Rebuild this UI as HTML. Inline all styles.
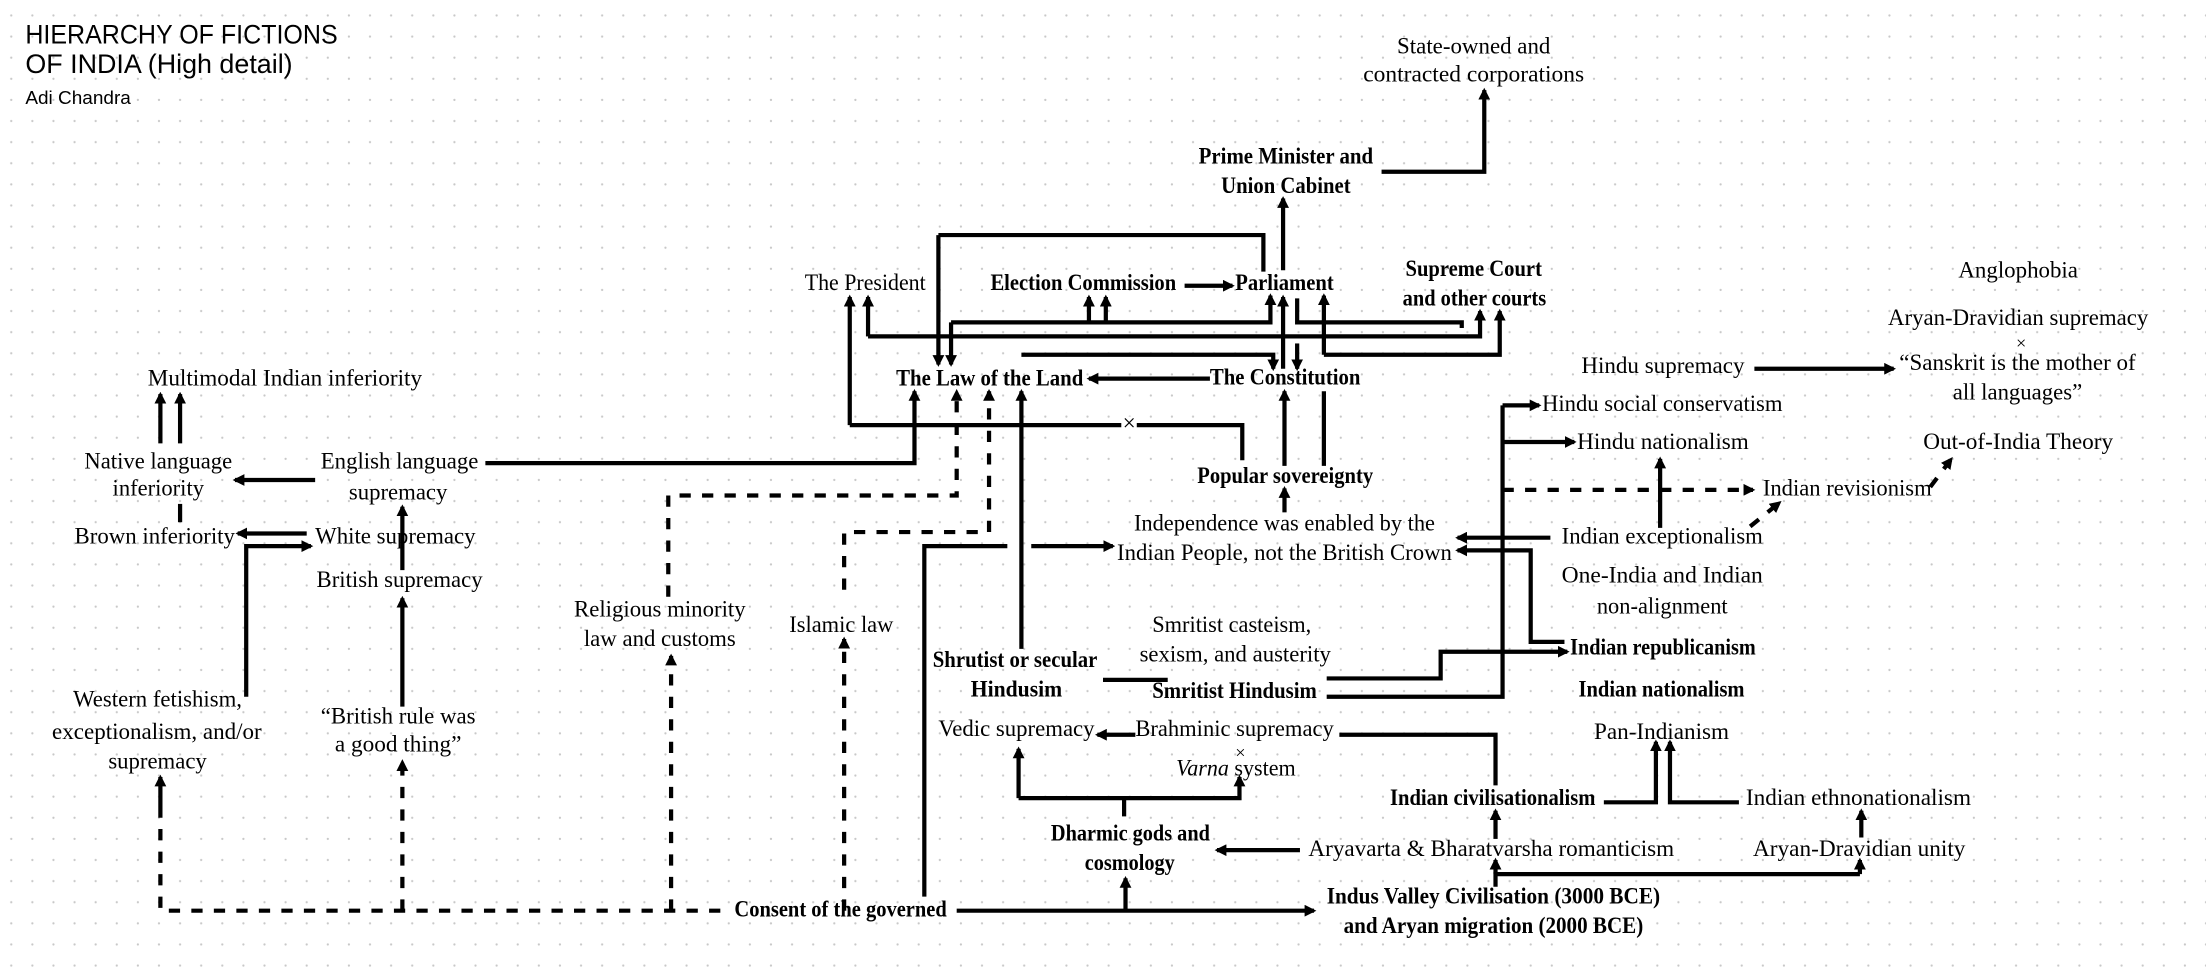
<!DOCTYPE html>
<html><head><meta charset="utf-8"><style>
html,body{margin:0;padding:0;background:#fff;}
svg{display:block;}
.t{font-family:"Liberation Serif",serif;font-size:16.5px;fill:#000;}
.b{font-weight:bold;}
.s{font-family:"Liberation Sans",sans-serif;fill:#000;}
.l{fill:none;stroke:#000;stroke-width:3;marker-end:url(#a);}
.n{fill:none;stroke:#000;stroke-width:3;}
.d{fill:none;stroke:#000;stroke-width:3;stroke-dasharray:8 8;}
.da{fill:none;stroke:#000;stroke-width:3;stroke-dasharray:8 8;marker-end:url(#a);}
</style></head><body>
<svg width="2206" height="967" viewBox="0 0 1568 687" preserveAspectRatio="none" xmlns="http://www.w3.org/2000/svg">
<defs>
<pattern id="g" x="7" y="10" width="15" height="15" patternUnits="userSpaceOnUse"><circle cx="1" cy="1" r="0.8" fill="#c8c8c8"/></pattern>
<marker id="a" viewBox="0 0 10 10" refX="8" refY="5" markerWidth="2.8" markerHeight="2.8" orient="auto" markerUnits="strokeWidth"><path d="M0,0 L10,5 L0,10 z" fill="#000"/></marker>
</defs>
<rect width="1568" height="687" fill="#fff"/>
<rect width="1568" height="687" fill="url(#g)"/>

<text class="s" x="18" y="31" font-size="19" textLength="222" lengthAdjust="spacingAndGlyphs">HIERARCHY OF FICTIONS</text>
<text class="s" x="18" y="52" font-size="19" textLength="190" lengthAdjust="spacingAndGlyphs">OF INDIA (High detail)</text>
<text class="s" x="18" y="74" font-size="13" textLength="75" lengthAdjust="spacingAndGlyphs">Adi Chandra</text>

<g class="t">
<text x="993" y="38" textLength="109" lengthAdjust="spacingAndGlyphs">State-owned and</text>
<text x="969" y="58" textLength="157" lengthAdjust="spacingAndGlyphs">contracted corporations</text>
<text class="b" x="852" y="116" textLength="124" lengthAdjust="spacingAndGlyphs">Prime Minister and</text>
<text class="b" x="868" y="137" textLength="92" lengthAdjust="spacingAndGlyphs">Union Cabinet</text>
<text x="572" y="206" textLength="86" lengthAdjust="spacingAndGlyphs">The President</text>
<text class="b" x="704" y="206" textLength="132" lengthAdjust="spacingAndGlyphs">Election Commission</text>
<text class="b" x="878" y="206" textLength="70" lengthAdjust="spacingAndGlyphs">Parliament</text>
<text class="b" x="999" y="196" textLength="97" lengthAdjust="spacingAndGlyphs">Supreme Court</text>
<text class="b" x="997" y="217" textLength="102" lengthAdjust="spacingAndGlyphs">and other courts</text>
<text class="b" x="637" y="274" textLength="133" lengthAdjust="spacingAndGlyphs">The Law of the Land</text>
<text class="b" x="860" y="273" textLength="107" lengthAdjust="spacingAndGlyphs">The Constitution</text>
<text x="1392" y="197" textLength="85" lengthAdjust="spacingAndGlyphs">Anglophobia</text>
<text x="1342" y="231" textLength="185" lengthAdjust="spacingAndGlyphs">Aryan-Dravidian supremacy</text>
<text x="1433" y="248" font-size="13">×</text>
<text x="1350" y="263" textLength="168" lengthAdjust="spacingAndGlyphs">“Sanskrit is the mother of</text>
<text x="1388" y="284" textLength="92" lengthAdjust="spacingAndGlyphs">all languages”</text>
<text x="1124" y="265" textLength="116" lengthAdjust="spacingAndGlyphs">Hindu supremacy</text>
<text x="105" y="274" textLength="195" lengthAdjust="spacingAndGlyphs">Multimodal Indian inferiority</text>
<text x="1096" y="292" textLength="171" lengthAdjust="spacingAndGlyphs">Hindu social conservatism</text>
<text x="1121" y="319" textLength="122" lengthAdjust="spacingAndGlyphs">Hindu nationalism</text>
<text x="1367" y="319" textLength="135" lengthAdjust="spacingAndGlyphs">Out-of-India Theory</text>
<text x="60" y="333" textLength="105" lengthAdjust="spacingAndGlyphs">Native language</text>
<text x="228" y="333" textLength="112" lengthAdjust="spacingAndGlyphs">English language</text>
<text class="b" x="851" y="343" textLength="125" lengthAdjust="spacingAndGlyphs">Popular sovereignty</text>
<text x="80" y="352" textLength="65" lengthAdjust="spacingAndGlyphs">inferiority</text>
<text x="248" y="355" textLength="70" lengthAdjust="spacingAndGlyphs">supremacy</text>
<text x="1253" y="352" textLength="120" lengthAdjust="spacingAndGlyphs">Indian revisionism</text>
<text x="806" y="377" textLength="214" lengthAdjust="spacingAndGlyphs">Independence was enabled by the</text>
<text x="794" y="398" textLength="238" lengthAdjust="spacingAndGlyphs">Indian People, not the British Crown</text>
<text x="53" y="386" textLength="114" lengthAdjust="spacingAndGlyphs">Brown inferiority</text>
<text x="224" y="386" textLength="114" lengthAdjust="spacingAndGlyphs">White supremacy</text>
<text x="1110" y="386" textLength="143" lengthAdjust="spacingAndGlyphs">Indian exceptionalism</text>
<text x="225" y="417" textLength="118" lengthAdjust="spacingAndGlyphs">British supremacy</text>
<text x="1110" y="414" textLength="143" lengthAdjust="spacingAndGlyphs">One-India and Indian</text>
<text x="1135" y="436" textLength="93" lengthAdjust="spacingAndGlyphs">non-alignment</text>
<text x="408" y="438" textLength="122" lengthAdjust="spacingAndGlyphs">Religious minority</text>
<text x="415" y="459" textLength="108" lengthAdjust="spacingAndGlyphs">law and customs</text>
<text x="561" y="449" textLength="74" lengthAdjust="spacingAndGlyphs">Islamic law</text>
<text x="819" y="449" textLength="113" lengthAdjust="spacingAndGlyphs">Smritist casteism,</text>
<text x="810" y="470" textLength="136" lengthAdjust="spacingAndGlyphs">sexism, and austerity</text>
<text class="b" x="663" y="474" textLength="117" lengthAdjust="spacingAndGlyphs">Shrutist or secular</text>
<text class="b" x="1116" y="465" textLength="132" lengthAdjust="spacingAndGlyphs">Indian republicanism</text>
<text class="b" x="690" y="495" textLength="65" lengthAdjust="spacingAndGlyphs">Hindusim</text>
<text class="b" x="819" y="496" textLength="117" lengthAdjust="spacingAndGlyphs">Smritist Hindusim</text>
<text class="b" x="1122" y="495" textLength="118" lengthAdjust="spacingAndGlyphs">Indian nationalism</text>
<text x="52" y="502" textLength="120" lengthAdjust="spacingAndGlyphs">Western fetishism,</text>
<text x="228" y="514" textLength="110" lengthAdjust="spacingAndGlyphs">“British rule was</text>
<text x="37" y="525" textLength="149" lengthAdjust="spacingAndGlyphs">exceptionalism, and/or</text>
<text x="238" y="534" textLength="90" lengthAdjust="spacingAndGlyphs">a good thing”</text>
<text x="77" y="546" textLength="70" lengthAdjust="spacingAndGlyphs">supremacy</text>
<text x="667" y="523" textLength="111" lengthAdjust="spacingAndGlyphs">Vedic supremacy</text>
<text x="807" y="523" textLength="141" lengthAdjust="spacingAndGlyphs">Brahminic supremacy</text>
<text x="1133" y="525" textLength="96" lengthAdjust="spacingAndGlyphs">Pan-Indianism</text>
<text x="878" y="539" font-size="13">×</text>
<text x="836" y="551" textLength="85" lengthAdjust="spacingAndGlyphs"><tspan font-style="italic">Varna</tspan> system</text>
<text class="b" x="988" y="572" textLength="146" lengthAdjust="spacingAndGlyphs">Indian civilisationalism</text>
<text x="1241" y="572" textLength="160" lengthAdjust="spacingAndGlyphs">Indian ethnonationalism</text>
<text class="b" x="747" y="597" textLength="113" lengthAdjust="spacingAndGlyphs">Dharmic gods and</text>
<text class="b" x="771" y="618" textLength="64" lengthAdjust="spacingAndGlyphs">cosmology</text>
<text x="930" y="608" textLength="260" lengthAdjust="spacingAndGlyphs">Aryavarta &amp; Bharatvarsha romanticism</text>
<text x="1246" y="608" textLength="151" lengthAdjust="spacingAndGlyphs">Aryan-Dravidian unity</text>
<text class="b" x="943" y="642" textLength="237" lengthAdjust="spacingAndGlyphs">Indus Valley Civilisation (3000 BCE)</text>
<text class="b" x="955" y="663" textLength="213" lengthAdjust="spacingAndGlyphs">and Aryan migration (2000 BCE)</text>
<text class="b" x="522" y="651" textLength="151" lengthAdjust="spacingAndGlyphs">Consent of the governed</text>
</g>

<!-- top -->
<path class="l" d="M982,122 H1055 V64"/>
<path class="l" d="M912,192 V141"/>
<path class="l" d="M912,262 V211"/>
<path class="n" d="M667,167 H898 V193"/>
<path class="l" d="M667,167 V259"/>
<path class="l" d="M676,229 V259"/>
<path class="l" d="M676,229 H903 V210"/>
<path class="l" d="M774,229 V211"/>
<path class="l" d="M786,229 V211"/>
<path class="n" d="M922,212 V229 H1039 V233"/>
<path class="l" d="M617,239 V211"/>
<path class="l" d="M617,239 H1052 V221"/>
<path class="l" d="M604,302 V211"/>
<path class="n" d="M604,302 H883 V327"/>
<rect x="797" y="296" width="11" height="12" fill="#fff"/>
<text class="t" x="798" y="306" font-size="13">×</text>
<path class="l" d="M345,329 H650 V278"/>
<path class="l" d="M726,461 V278"/>
<path class="l" d="M726,252 H905 V262"/>
<path class="l" d="M922,244 V262"/>
<path class="l" d="M941,252 H1066 V221"/>
<path class="l" d="M941,252 V210"/>
<path class="n" d="M941,278 V331"/>
<path class="l" d="M913,331 V278"/>
<path class="l" d="M860,269 H774"/>
<path class="l" d="M842,203 H876"/>
<path class="l" d="M913,364 V347"/>
<!-- right -->
<path class="l" d="M1247,262 H1346"/>
<path class="n" d="M1068,288 V495 H943"/>
<path class="l" d="M1068,288 H1094"/>
<path class="l" d="M1068,314 H1119"/>
<path class="da" d="M1068,348 H1246"/>
<path class="l" d="M1180,375 V326"/>
<path class="l" d="M1102,382 H1036"/>
<path class="l" d="M1112,456 H1088 V391 H1036"/>
<path class="l" d="M943,482 H1024 V463 H1114"/>
<path class="da" d="M1244,374 L1265,357"/>
<path class="da" d="M1372,346 L1387,326"/>
<path class="n" d="M784,483 H830"/>
<path class="l" d="M807,522 H780"/>
<path class="n" d="M952,522 H1063 V558"/>
<path class="l" d="M724,567 V532"/>
<path class="l" d="M724,567 H881 V552"/>
<path class="n" d="M799,567 V580"/>
<path class="l" d="M924,604 H865"/>
<path class="l" d="M800,647 V624"/>
<path class="l" d="M680,647 H934"/>
<path class="n" d="M657,637 V388 H716"/>
<path class="l" d="M733,388 H791"/>
<path class="n" d="M1063,630 V621 H1322"/>
<path class="l" d="M1063,621 V611"/>
<path class="l" d="M1322,621 V611"/>
<path class="l" d="M1063,596 V576"/>
<path class="l" d="M1140,570 H1177 V527"/>
<path class="l" d="M1236,570 H1187 V527"/>
<path class="l" d="M1323,595 V576"/>
<!-- left -->
<path class="l" d="M224,341 H167"/>
<path class="l" d="M128,315 V280"/>
<path class="l" d="M114,315 V280"/>
<path class="n" d="M128,358 V371"/>
<path class="l" d="M218,379 H169"/>
<path class="l" d="M175,495 V388 H221"/>
<path class="l" d="M286,405 V360"/>
<path class="l" d="M286,502 V425"/>
<path class="da" d="M286,647 V541"/>
<path class="l" d="M114,573 V552"/>
<path class="d" d="M114,573 V647 H520"/>
<path class="da" d="M477,647 V466"/>
<path class="da" d="M600,647 V454"/>
<path class="da" d="M475,424 V352 H680 V278"/>
<path class="da" d="M600,419 V378 H703 V278"/>
</svg>
</body></html>
